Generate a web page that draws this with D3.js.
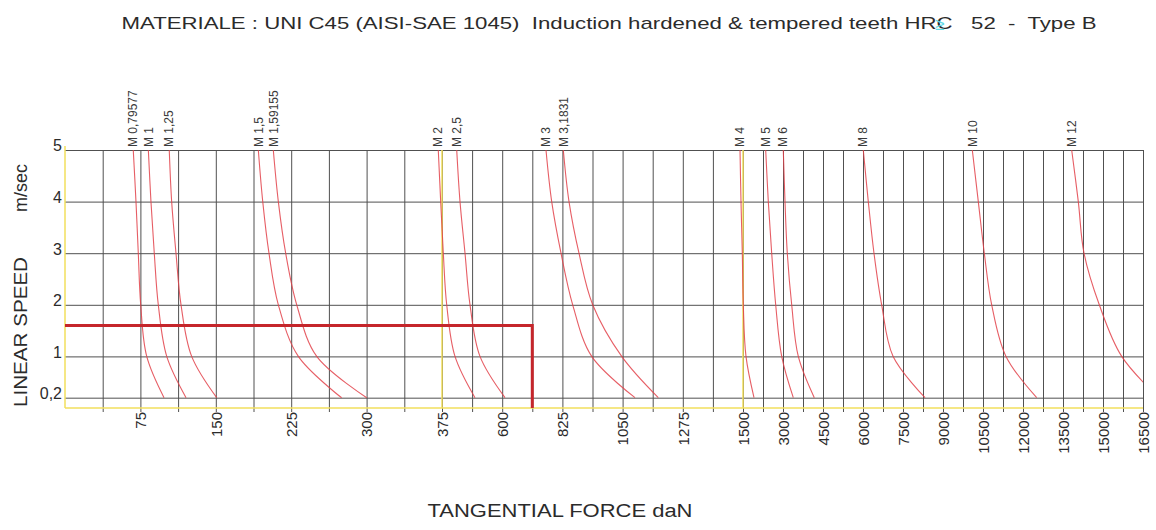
<!DOCTYPE html>
<html lang="en">
<head>
    <meta charset="UTF-8">
    <title>Tangential force vs linear speed</title>
    <style>
        body {
            margin: 0;
            background: #ffffff;
        }
        text {
            font-family: "Liberation Sans", Arial, sans-serif;
            fill: #2b2b2b;
        }
    </style>
</head>
<body>
    <div class="vis"><svg width="1156" height="530"></svg></div>
    <script src="https://cdnjs.cloudflare.com/ajax/libs/d3/7.8.5/d3.min.js"></script>
    <script>
        // speed levels (m/sec) at which each curve was read
        var speedLevels = [5, 4, 3, 2, 1, 0.2];

        var moduleNames = ["M 0,79577", "M 1", "M 1,25", "M 1,5", "M 1,59155", "M 2", "M 2,5",
            "M 3", "M 3,1831", "M 4", "M 5", "M 6", "M 8", "M 10", "M 12"];

        // tangential force (daN) for each module, one value per speed level
        var moduleForces = [
            [67.9, 70.6, 72.9, 75.3, 81.3, 98.5],
            [82.9, 85.5, 88.8, 92.8, 101.2, 120.4],
            [103.7, 106.1, 110.4, 115.4, 126, 150.9],
            [192.3, 196.7, 202.9, 212.2, 232.1, 275.2],
            [207.2, 212.2, 219.5, 230.5, 250.4, 300.1],
            [371.3, 373.7, 379.9, 392.6, 423.6, 498.3],
            [430, 442.3, 461, 479.7, 517, 610.5],
            [763.7, 785, 819.8, 863.5, 934.5, 1096.3],
            [828.4, 849.7, 887, 938.2, 1046.6, 1183.4],
            [1488.8, 1492.5, 1497.4, 1511, 1612.5, 1912.5],
            [2351, 2449, 2576, 2726, 2951, 3386],
            [3011, 3075, 3161, 3326, 3574, 4174],
            [6011, 6199, 6412, 6700, 7130, 8325],
            [10099, 10324, 10549, 10826, 11363, 12514],
            [13826, 14074, 14288, 14861, 15701, 17100]
        ];

        // x axis is split in three linear stretches
        var xBreaks = [0, 375, 1500, 16500];
        var xTickLabels = [75, 150, 225, 300, 375, 600, 825, 1050, 1275, 1500,
            3000, 4500, 6000, 7500, 9000, 10500, 12000, 13500, 15000, 16500];
        var yTickValues = [0.2, 1, 2, 3, 4, 5];
        var yTickLabels = ["0,2", "1", "2", "3", "4", "5"];

        // working point marked in red
        var workSpeed = 1.6;
        var workForce = 712.5;

        var svg = d3.select('.vis svg');
        var pLeft = 65, pRight = 1143, pTop = 150, pBottom = 408;

        var xScale = d3.scaleLinear()
            .domain(xBreaks)
            .range([pLeft, 442, 743, pRight]);

        var yScale = d3.scaleLinear()
            .domain([0, 5])
            .range([pBottom, pTop]);

        // grid lines: one every 37.5 / 112.5 / 750 daN depending on the stretch
        var gridValues = d3.range(37.5, 375, 37.5)
            .concat(d3.range(375, 1500, 112.5))
            .concat(d3.range(1500, 16500 + 1, 750));

        svg.append('g')
            .attr('class', 'xgrid')
            .attr('transform', `translate(0, ${pBottom + 4})`)
            .call(d3.axisBottom(xScale).tickValues(gridValues).tickSize(-(pBottom - pTop + 4)).tickFormat(''))
            .call(g => g.select('.domain').remove())
            .call(g => g.selectAll('line').attr('stroke', '#505050').attr('stroke-width', 1));

        svg.append('g')
            .attr('class', 'ygrid')
            .attr('transform', `translate(${pLeft}, 0)`)
            .call(d3.axisLeft(yScale).tickValues(yTickValues).tickSize(-(pRight - pLeft)).tickFormat(''))
            .call(g => g.select('.domain').remove())
            .call(g => g.selectAll('line').attr('stroke', '#505050').attr('stroke-width', 1));

        // yellow frame lines
        var yellow = '#f2df5c';
        svg.append('line')
            .attr('x1', pLeft).attr('x2', pLeft)
            .attr('y1', pTop - 4).attr('y2', pBottom)
            .attr('stroke', yellow).attr('stroke-width', 1.5);
        svg.append('line')
            .attr('x1', pLeft).attr('x2', pRight)
            .attr('y1', pBottom).attr('y2', pBottom)
            .attr('stroke', yellow).attr('stroke-width', 1.5);
        svg.selectAll('line.split')
            .data([375, 1500])
            .enter()
            .append('line')
            .attr('class', 'split')
            .attr('x1', d => xScale(d)).attr('x2', d => xScale(d))
            .attr('y1', pTop).attr('y2', pBottom)
            .attr('stroke', yellow).attr('stroke-width', 1.5);

        // y tick labels
        svg.append('g')
            .attr('class', 'yaxis')
            .attr('transform', `translate(${pLeft}, 0)`)
            .call(d3.axisLeft(yScale).tickValues(yTickValues).tickSize(0).tickPadding(3)
                .tickFormat((d, i) => yTickLabels[i]))
            .call(g => g.select('.domain').remove())
            .call(g => g.selectAll('text')
                .attr('dy', '0.05em')
                .style('font-size', '16px')
                .attr('fill', '#2b2b2b'));

        // x tick labels, rotated
        svg.append('g')
            .attr('class', 'xaxis')
            .attr('transform', `translate(0, ${pBottom})`)
            .call(d3.axisBottom(xScale).tickValues(xTickLabels).tickSize(0).tickFormat(d => d))
            .call(g => g.select('.domain').remove())
            .call(g => g.selectAll('text')
                .attr('transform', 'rotate(-90)')
                .attr('text-anchor', 'end')
                .attr('x', -4)
                .attr('y', 0)
                .attr('dy', '0.35em')
                .style('font-size', '15px')
                .attr('fill', '#2b2b2b'));

        // module curves
        svg.append('clipPath')
            .attr('id', 'plotclip')
            .append('rect')
            .attr('x', pLeft).attr('y', pTop - 1)
            .attr('width', pRight - pLeft).attr('height', pBottom - pTop + 1);

        var line = d3.line()
            .x(d => xScale(d[0]))
            .y(d => yScale(d[1]))
            .curve(d3.curveCatmullRom.alpha(0.5));

        svg.append('g')
            .attr('clip-path', 'url(#plotclip)')
            .selectAll('path.module')
            .data(moduleForces)
            .enter()
            .append('path')
            .attr('class', 'module')
            .attr('d', d => line(d.map((f, i) => [f, speedLevels[i]])))
            .attr('fill', 'none')
            .attr('stroke', '#e2424a')
            .attr('stroke-width', 1.1)
            .attr('opacity', 0.85);

        svg.selectAll('text.module')
            .data(moduleNames)
            .enter()
            .append('text')
            .attr('class', 'module')
            .attr('transform', (d, i) => `translate(${xScale(moduleForces[i][0])}, ${pTop - 3}) rotate(-90)`)
            .attr('dy', '0.35em')
            .style('font-size', '12px')
            .style('fill', '#3a3a3a')
            .text(d => d);

        // working point
        svg.append('path')
            .attr('d', `M${pLeft},${yScale(workSpeed)}H${xScale(workForce)}V${pBottom}`)
            .attr('fill', 'none')
            .attr('stroke', '#c5262b')
            .attr('stroke-width', 3);

        // titles
        svg.append('text')
            .attr('x', 609)
            .attr('y', 29)
            .attr('text-anchor', 'middle')
            .attr('textLength', 975)
            .attr('lengthAdjust', 'spacingAndGlyphs')
            .style('font-size', '17px')
            .style('white-space', 'pre')
            .text('MATERIALE : UNI C45 (AISI-SAE 1045)  Induction hardened & tempered teeth HRC   52  -  Type B');

        svg.append('text')
            .attr('x', 935)
            .attr('y', 30)
            .style('font-size', '17px')
            .style('fill', '#5fd9e6')
            .text('\u2265');

        svg.append('text')
            .attr('transform', 'translate(27, 407) rotate(-90)')
            .attr('textLength', 150)
            .attr('lengthAdjust', 'spacingAndGlyphs')
            .style('font-size', '19px')
            .text('LINEAR SPEED');

        svg.append('text')
            .attr('transform', 'translate(27, 212) rotate(-90)')
            .attr('textLength', 48)
            .attr('lengthAdjust', 'spacingAndGlyphs')
            .style('font-size', '19px')
            .text('m/sec');

        svg.append('text')
            .attr('x', 560)
            .attr('y', 517)
            .attr('text-anchor', 'middle')
            .attr('textLength', 265)
            .attr('lengthAdjust', 'spacingAndGlyphs')
            .style('font-size', '18px')
            .text('TANGENTIAL FORCE daN');
    </script>
</body>
</html>
